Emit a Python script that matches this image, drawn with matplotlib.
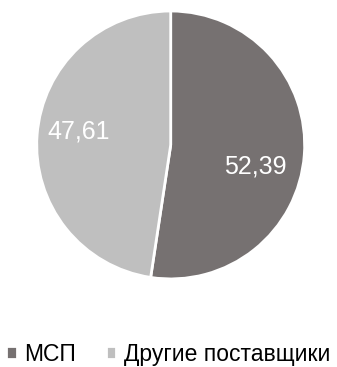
import matplotlib.pyplot as plt

labels = ['МСП', 'Другие поставщики']
values = [52.39, 47.61]
colors = ['#767171', '#bfbfbf']

plt.rcParams['font.family'] = ['Liberation Sans', 'DejaVu Sans']

fig = plt.figure(figsize=(3.37, 3.67), dpi=100)
ax = fig.add_axes([0.109, 0.24, 0.795, 0.73])
wedges, _ = ax.pie(values, colors=colors, startangle=90, counterclock=False,
                   wedgeprops={'edgecolor': 'white', 'linewidth': 2})
ax.set_aspect('auto')
ax.set_xlim(-1, 1)
ax.set_ylim(-1, 1)

# value labels inside the slices
ax.text(0.63, -0.16, '52,39', color='white', fontsize=18, ha='center', va='center')
ax.text(-0.69, 0.10, '47,61', color='white', fontsize=18, ha='center', va='center')

fig.legend(wedges, labels, loc='center', bbox_to_anchor=(0.5, 0.035), ncol=2,
           frameon=False, fontsize=16.5, handlelength=0.45, handleheight=0.45,
           handletextpad=0.35, columnspacing=1.3)

fig.savefig('out.png', dpi=100)
